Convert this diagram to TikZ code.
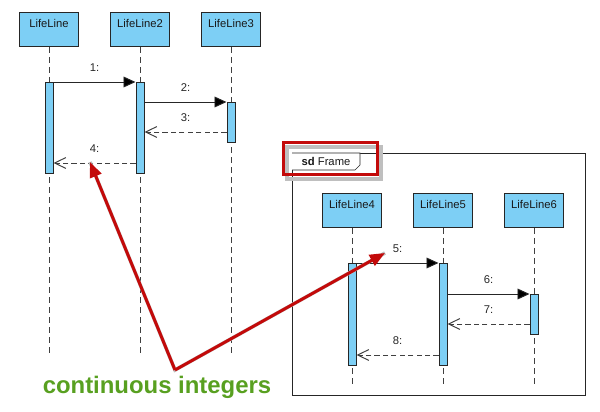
\documentclass[tikz,border=0pt]{standalone}
\usepackage{fontspec}
\setmainfont{Liberation Sans}
\usetikzlibrary{arrows.meta,positioning}
\definecolor{lifeblue}{RGB}{125,207,245}
\definecolor{noteRed}{RGB}{195,10,10}
\definecolor{noteGreen}{RGB}{88,160,32}
\tikzset{
  lifebox/.style = {draw=black!85, fill=lifeblue, line width=0.7pt,
    minimum width=1.475cm, minimum height=0.85cm, inner sep=0pt, anchor=north},
  boxtext/.style = {font=\fontsize{8}{9}\selectfont, text=black!90},
  lifeline/.style = {draw=black!75, line width=0.7pt, dash pattern=on 0.15cm off 0.1cm},
  actbar/.style = {draw=black!85, fill=lifeblue, line width=0.7pt,
    minimum width=0.2cm, inner sep=0pt, anchor=north},
  sync/.style = {draw=black!85, line width=0.7pt,
    -{Triangle[length=0.3cm,width=0.27cm,fill=black]}},
  reply/.style = {draw=black!75, line width=0.7pt, dash pattern=on 0.13cm off 0.08cm,
    -{Straight Barb[length=0.28cm,width=0.27cm]}},
  msg/.style = {font=\fontsize{8}{9}\selectfont, text=black!85, inner sep=1pt},
  callout/.style = {draw=noteRed, line width=0.075cm,
    -{Triangle[length=0.38cm,width=0.3cm]}},
  calloutshade/.style = {draw=black!25, line width=0.09cm, shift={(3,3)}}
}

\begin{document}
\begin{tikzpicture}[x=0.025cm, y=-0.025cm]
  \useasboundingbox (0,0) rectangle (600,412);

  % first three lifelines
  \node[lifebox, label={[boxtext, anchor=north, yshift=-2pt]north:LifeLine}] (l1) at (49,12) {};
  \node[lifebox, label={[boxtext, anchor=north, yshift=-2pt]north:LifeLine2}] (l2) at (140,12) {};
  \node[lifebox, label={[boxtext, anchor=north, yshift=-2pt]north:LifeLine3}] (l3) at (231,12) {};
  \foreach \n in {l1,l2,l3}
    \draw[lifeline] (\n.south) -- (\n.south |- 0,355);

  \node[actbar, minimum height=2.275cm] (a1) at (l1.south |- 0,82) {};
  \node[actbar, minimum height=2.275cm] (a2) at (l2.south |- 0,82) {};
  \node[actbar, minimum height=1cm] (a3) at (l3.south |- 0,102) {};

  \draw[sync] (a1.north east) -- (a2.north west) node[midway, above=6pt, msg] {1:};
  \draw[sync] (a3.north west -| a2.east) -- (a3.north west) node[midway, above=6pt, msg] {2:};
  \draw[reply] (a3.west |- 0,132) -- (a2.east |- 0,132) node[midway, above=6pt, msg] {3:};
  \draw[reply] (a2.west |- 0,163) -- (a1.east |- 0,163) node[midway, above=6pt, msg] {4:};

  % frame
  \node[draw=black!85, line width=0.7pt, minimum width=7.325cm, minimum height=6.05cm,
    inner sep=0pt, anchor=north west] (frame) at (292,153) {};
  \draw[black!85, line width=0.5pt, fill=white] (frame.north west) -- ++(68,0) -- ++(0,12)
    -- ++(-5,5) -- ++(-63,0);
  \node[msg, text=black!90] (sd) at (326,161.5) {\textbf{sd} Frame};

  \node[lifebox, label={[boxtext, anchor=north, yshift=-2pt]north:LifeLine4}] (l4) at (352,193) {};
  \node[lifebox, label={[boxtext, anchor=north, yshift=-2pt]north:LifeLine5}] (l5) at (443,193) {};
  \node[lifebox, label={[boxtext, anchor=north, yshift=-2pt]north:LifeLine6}] (l6) at (534,193) {};
  \foreach \n in {l4,l5,l6}
    \draw[lifeline] (\n.south) -- (\n.south |- 0,385);

  \node[actbar, minimum height=2.55cm] (a4) at (l4.south |- 0,263) {};
  \node[actbar, minimum height=2.55cm] (a5) at (l5.south |- 0,263) {};
  \node[actbar, minimum height=1cm] (a6) at (l6.south |- 0,294) {};

  \draw[sync] (a4.north east) -- (a5.north west) node[midway, above=6pt, msg] {5:};
  \draw[sync] (a6.north west -| a5.east) -- (a6.north west) node[midway, above=6pt, msg] {6:};
  \draw[reply] (a6.west |- 0,324) -- (a5.east |- 0,324) node[midway, above=6pt, msg] {7:};
  \draw[reply] (a5.west |- 0,355) -- (a4.east |- 0,355) node[midway, above=6pt, msg] {8:};

  % callouts
  \coordinate (bend) at (175,370);
  \coordinate (tip4) at (90,162);
  \coordinate (tip5) at (385,253);
  \draw[calloutshade] (284,144) rectangle (378,176);
  \draw[draw=noteRed, line width=0.075cm] (283,143) rectangle (377,175);
  \draw[calloutshade] (tip4) -- (bend) -- (tip5);
  \draw[callout] (bend) -- (tip4);
  \draw[callout] (bend) -- (tip5);

  \node[font=\fontsize{17}{20}\selectfont\bfseries, text=noteGreen] (note) at (157,387) {continuous integers};
\end{tikzpicture}
\end{document}
